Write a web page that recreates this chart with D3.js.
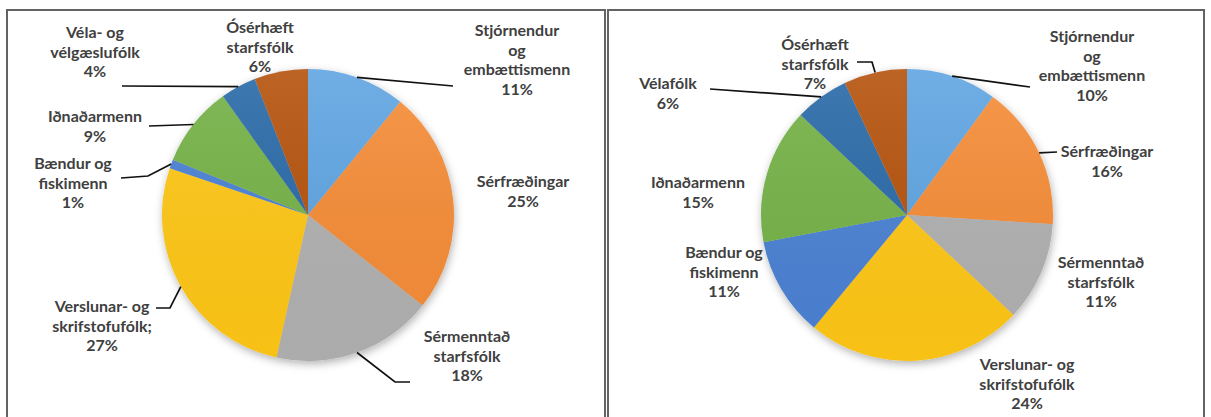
<!DOCTYPE html>
<html>
<head>
<meta charset="utf-8">
<script src="https://cdn.jsdelivr.net/npm/d3@7"></script>
<style>
  body { margin: 0; background: #fff; }
  svg { display: block; font-family: Lato, "Open Sans", sans-serif; }
</style>
</head>
<body>
<div id="chart"></div>
<script>
// occupational groups, clockwise from 12 o'clock
const categories = ['Stjórnendur og embættismenn', 'Sérfræðingar', 'Sérmenntað starfsfólk',
  'Verslunar- og skrifstofufólk', 'Bændur og fiskimenn', 'Iðnaðarmenn', 'Vélafólk', 'Ósérhæft starfsfólk'];
const valuesLeft = [11, 25, 18, 27, 1, 9, 4, 6];
const valuesRight = [10, 16, 11, 24, 11, 15, 6, 7];

const namesLeft = [
  ['Stjórnendur', 'og', 'embættismenn'], ['Sérfræðingar'], ['Sérmenntað', 'starfsfólk'],
  ['Verslunar- og', 'skrifstofufólk;'], ['Bændur og', 'fiskimenn'], ['Iðnaðarmenn'],
  ['Véla- og', 'vélgæslufólk'], ['Ósérhæft', 'starfsfólk']
];
const namesRight = [
  ['Stjórnendur', 'og', 'embættismenn'], ['Sérfræðingar'], ['Sérmenntað', 'starfsfólk'],
  ['Verslunar- og', 'skrifstofufólk'], ['Bændur og', 'fiskimenn'], ['Iðnaðarmenn'],
  ['Vélafólk'], ['Ósérhæft', 'starfsfólk']
];

const colors = ['#60a5e2', '#f68d38', '#b1b1b1', '#ffc719', '#4b82d4', '#74b246', '#2a6aa8', '#b5520f'];

// label layout: [center x, first baseline]
const labelPosLeft = [[517, 36], [523, 187], [467, 342], [102, 312], [73, 169], [95, 122], [95, 38], [260, 33]];
const labelPosRight = [[1092, 42], [1107, 157], [1101, 268], [1027, 370], [724, 258], [698, 188], [668, 89], [815, 50]];
// leader line bends (start is the slice's outer mid point)
const leadersLeft = [[[453, 86]], null, [[395, 382], [410, 382]], [[170, 308], [156, 308]],
  [[148, 176], [121, 178]], [[149, 126]], [[122, 86]], null];
const leadersRight = [[[1030, 87]], [[1057, 152]], null, null, null, null, [[710, 89]], [[872, 62], [857, 62]]];

let width = 1211;
let height = 417;
let radius = 146;
let lineGap = 19.5;

let svg = d3.select('#chart')
  .append('svg')
  .attr('width', width)
  .attr('height', height);

let defs = svg.append('defs');

defs.append('filter')
  .attr('id', 'shadow')
  .attr('x', '-20%').attr('y', '-20%').attr('width', '140%').attr('height', '140%')
  .append('feDropShadow')
  .attr('dx', 1).attr('dy', 3).attr('stdDeviation', 4)
  .attr('flood-color', '#000').attr('flood-opacity', 0.3);

let shade = defs.append('linearGradient')
  .attr('id', 'shade')
  .attr('x1', 0).attr('y1', 0).attr('x2', 0).attr('y2', 1);
shade.append('stop').attr('offset', '0%').attr('stop-color', '#fff').attr('stop-opacity', 0.1);
shade.append('stop').attr('offset', '100%').attr('stop-color', '#000').attr('stop-opacity', 0.03);

// panel frames
svg.selectAll('.panel')
  .data([[7, 598], [608, 596]])
  .enter().append('rect')
  .attr('class', 'panel')
  .attr('x', d => d[0])
  .attr('y', 10)
  .attr('width', d => d[1])
  .attr('height', 430)
  .attr('fill', 'none')
  .attr('stroke', '#636363')
  .attr('stroke-width', 2);

let pie = d3.pie().sort(null).value(d => d);
let arc = d3.arc().innerRadius(0).outerRadius(radius);
let edge = d3.arc().innerRadius(radius).outerRadius(radius);

function drawPie(cx, cy, values, names, labelPos, leaders) {
  let g = svg.append('g').attr('transform', `translate(${cx}, ${cy})`);
  let arcs = pie(values);

  let slices = g.append('g').attr('filter', 'url(#shadow)');
  slices.selectAll('path')
    .data(arcs)
    .enter().append('path')
    .attr('d', arc)
    .attr('fill', (d, i) => colors[i]);

  g.append('circle').attr('r', radius).attr('fill', 'url(#shade)');

  // leader lines
  arcs.forEach((a, i) => {
    if (!leaders[i]) return;
    let start = edge.centroid(a);
    let pts = [[cx + start[0], cy + start[1]]].concat(leaders[i]);
    svg.append('path')
      .attr('d', d3.line()(pts))
      .attr('fill', 'none')
      .attr('stroke', '#111')
      .attr('stroke-width', 1.7);
  });

  // labels
  arcs.forEach((a, i) => {
    let lines = names[i].concat([values[i] + '%']);
    let t = svg.append('text')
      .attr('text-anchor', 'middle')
      .attr('font-size', 16)
      .attr('font-weight', 700)
      .attr('fill', '#404040');
    lines.forEach((s, k) => {
      t.append('tspan')
        .attr('x', labelPos[i][0])
        .attr('y', labelPos[i][1] + k * lineGap)
        .text(s);
    });
  });
}

drawPie(308, 215, valuesLeft, namesLeft, labelPosLeft, leadersLeft);
drawPie(907, 215, valuesRight, namesRight, labelPosRight, leadersRight);
</script>
</body>
</html>
